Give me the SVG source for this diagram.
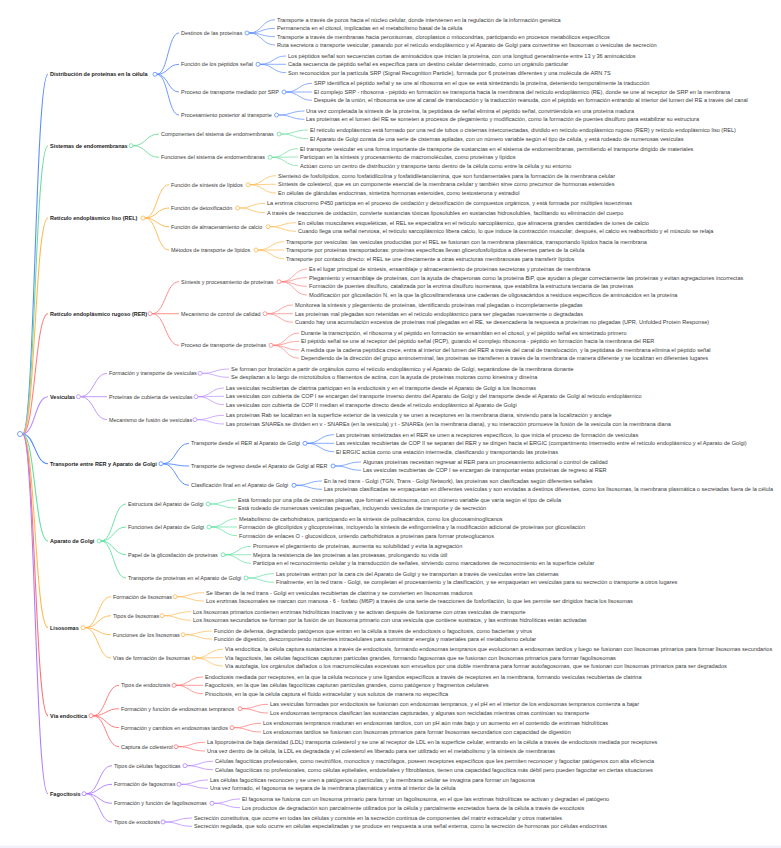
<svg xmlns="http://www.w3.org/2000/svg" width="781" height="848" viewBox="0 0 781 848">
<style>
text{font-family:"Liberation Sans",Arial,sans-serif}
.t1{font-size:5.5px;font-weight:bold;fill:#1a1a1a}
.t2{font-size:5.45px;fill:#3a3a3a}
.t3{font-size:5.6px;fill:#3a3a3a}
.e0 path{stroke-width:1.1}
.e1 path{stroke-width:0.9}
.e2 path{stroke-width:0.7}
circle{fill:#fff;stroke-width:0.8}
.k1{stroke:#5c8dff}.k2{stroke:#6fdc9c}.k3{stroke:#ffb74d}.k4{stroke:#ff8080}.k5{stroke:#b98cff}
.k6{stroke:#4f86ff}.k7{stroke:#5fe0a0}.k8{stroke:#ffb84d}.k9{stroke:#ff7070}.k10{stroke:#b07cff}
</style>
<rect x="0" y="0" width="781" height="848" fill="#fff"/>
<rect x="0" y="845.5" width="781" height="2.5" fill="#f3f1fb"/>
<g id="connectors" fill="none">
<g class="e0">
<path class="k1" d="M22.5 434C35 434 35 74.3 48 74.3"/>
<path class="k2" d="M22.5 434C35 434 35 145.7 48 145.7"/>
<path class="k3" d="M22.5 434C35 434 35 218 48 218"/>
<path class="k4" d="M22.5 434C35 434 35 313.7 48 313.7"/>
<path class="k5" d="M22.5 434C35 434 35 396.7 48 396.7"/>
<path class="k6" d="M22.5 434C35 434 35 463.7 48 463.7"/>
<path class="k7" d="M22.5 434C35 434 35 541 48 541"/>
<path class="k8" d="M22.5 434C35 434 35 627.7 48 627.7"/>
<path class="k9" d="M22.5 434C35 434 35 715.7 48 715.7"/>
<path class="k10" d="M22.5 434C35 434 35 793.7 48 793.7"/>
</g>
<g class="e1">
<path class="k1" d="M157 74.3C168 74.3 168 33 179 33M157 74.3C168 74.3 168 64.3 179 64.3M157 74.3C168 74.3 168 92 179 92M157 74.3C168 74.3 168 115 179 115"/>
<path class="k2" d="M133 145.7C146 145.7 146 134 159 134M133 145.7C146 145.7 146 157.3 159 157.3"/>
<path class="k3" d="M145 218C157 218 157 184.7 169 184.7M145 218C157 218 157 208 169 208M145 218C157 218 157 226.7 169 226.7M145 218C157 218 157 250 169 250"/>
<path class="k4" d="M152 313.7C165.5 313.7 165.5 281.7 179 281.7M152 313.7C165.5 313.7 165.5 313.7 179 313.7M152 313.7C165.5 313.7 165.5 345.3 179 345.3"/>
<path class="k5" d="M80.5 396.7C94 396.7 94 373.3 107 373.3M80.5 396.7C94 396.7 94 396.7 107 396.7M80.5 396.7C94 396.7 94 419.7 107 419.7"/>
<path class="k6" d="M163 463.7C176 463.7 176 443.3 189 443.3M163 463.7C176 463.7 176 466 189 466M163 463.7C176 463.7 176 485.3 189 485.3"/>
<path class="k7" d="M101 541C113.5 541 113.5 504 126 504M101 541C113.5 541 113.5 527 126 527M101 541C113.5 541 113.5 554.7 126 554.7M101 541C113.5 541 113.5 578 126 578"/>
<path class="k8" d="M85 627.7C98 627.7 98 596.7 111 596.7M85 627.7C98 627.7 98 615.7 111 615.7M85 627.7C98 627.7 98 634.7 111 634.7M85 627.7C98 627.7 98 658 111 658"/>
<path class="k9" d="M93 715.7C106 715.7 106 685.3 119 685.3M93 715.7C106 715.7 106 708.7 119 708.7M93 715.7C106 715.7 106 727.7 119 727.7M93 715.7C106 715.7 106 746.7 119 746.7"/>
<path class="k10" d="M86 793.7C99 793.7 99 765.7 112 765.7M86 793.7C99 793.7 99 784.3 112 784.3M86 793.7C99 793.7 99 803.3 112 803.3M86 793.7C99 793.7 99 822 112 822"/>
</g>
<g class="e2">
<path class="k1" d="M249 33C262 33 262 19.7 275 19.7M249 33C262 33 262 28.3 275 28.3M249 33C262 33 262 36.7 275 36.7M249 33C262 33 262 45 275 45"/>
<path class="k1" d="M260 64.3C273 64.3 273 56 286 56M260 64.3C273 64.3 273 64.3 286 64.3M260 64.3C273 64.3 273 72.7 286 72.7"/>
<path class="k1" d="M286 92C299 92 299 83.3 312 83.3M286 92C299 92 299 92 312 92M286 92C299 92 299 100.3 312 100.3"/>
<path class="k1" d="M278.5 115C291.5 115 291.5 111 304.5 111M278.5 115C291.5 115 291.5 119.3 304.5 119.3"/>
<path class="k2" d="M281 134C294.5 134 294.5 130 308 130M281 134C294.5 134 294.5 138.7 308 138.7"/>
<path class="k2" d="M272 157.3C285 157.3 285 148.7 298 148.7M272 157.3C285 157.3 285 157 298 157M272 157.3C285 157.3 285 165.7 298 165.7"/>
<path class="k3" d="M250 184.7C263 184.7 263 175.7 276 175.7M250 184.7C263 184.7 263 184.3 276 184.3M250 184.7C263 184.7 263 193 276 193"/>
<path class="k3" d="M239.5 208C252 208 252 203.3 265 203.3M239.5 208C252 208 252 212.7 265 212.7"/>
<path class="k3" d="M270 226.7C283 226.7 283 222.7 296 222.7M270 226.7C283 226.7 283 231.3 296 231.3"/>
<path class="k3" d="M258 250C271 250 271 241.7 284 241.7M258 250C271 250 271 250 284 250M258 250C271 250 271 258.7 284 258.7"/>
<path class="k4" d="M281 281.7C294 281.7 294 269 307 269M281 281.7C294 281.7 294 277.7 307 277.7M281 281.7C294 281.7 294 286.3 307 286.3M281 281.7C294 281.7 294 295 307 295"/>
<path class="k4" d="M267 313.7C280 313.7 280 305 293 305M267 313.7C280 313.7 280 313.7 293 313.7M267 313.7C280 313.7 280 322.3 293 322.3"/>
<path class="k4" d="M273 345.3C286 345.3 286 333 299 333M273 345.3C286 345.3 286 341.3 299 341.3M273 345.3C286 345.3 286 350 299 350M273 345.3C286 345.3 286 358.3 299 358.3"/>
<path class="k5" d="M202 373.3C215 373.3 215 369 229 369M202 373.3C215 373.3 215 377.3 229 377.3"/>
<path class="k5" d="M198 396.7C211 396.7 211 388 224 388M198 396.7C211 396.7 211 396.3 224 396.3M198 396.7C211 396.7 211 404.7 224 404.7"/>
<path class="k5" d="M197 419.7C210 419.7 210 415.3 224 415.3M197 419.7C210 419.7 210 424 224 424"/>
<path class="k6" d="M307 443.3C320 443.3 320 434.7 334 434.7M307 443.3C320 443.3 320 443.3 334 443.3M307 443.3C320 443.3 320 451.7 334 451.7"/>
<path class="k6" d="M335 466C348 466 348 462 361 462M335 466C348 466 348 470.3 361 470.3"/>
<path class="k6" d="M296 485.3C309 485.3 309 481 322 481M296 485.3C309 485.3 309 489.3 322 489.3"/>
<path class="k7" d="M210 504C223 504 223 499.7 236 499.7M210 504C223 504 223 508 236 508"/>
<path class="k7" d="M211 527C224 527 224 518.7 237 518.7M211 527C224 527 224 527 237 527M211 527C224 527 224 535.7 237 535.7"/>
<path class="k7" d="M225 554.7C238 554.7 238 546.3 251 546.3M225 554.7C238 554.7 238 554.7 251 554.7M225 554.7C238 554.7 238 563.3 251 563.3"/>
<path class="k7" d="M248 578C261 578 261 573.7 274 573.7M248 578C261 578 261 582.3 274 582.3"/>
<path class="k8" d="M177 596.7C190 596.7 190 592.7 204 592.7M177 596.7C190 596.7 190 601 204 601"/>
<path class="k8" d="M164 615.7C177 615.7 177 611.7 191 611.7M164 615.7C177 615.7 177 620.3 191 620.3"/>
<path class="k8" d="M185 634.7C198 634.7 198 631 212 631M185 634.7C198 634.7 198 639 212 639"/>
<path class="k8" d="M196 658C209 658 209 649.3 223 649.3M196 658C209 658 209 657.7 223 657.7M196 658C209 658 209 666 223 666"/>
<path class="k9" d="M176 685.3C189 685.3 189 677 203 677M176 685.3C189 685.3 189 685.3 203 685.3M176 685.3C189 685.3 189 693.7 203 693.7"/>
<path class="k9" d="M242 708.7C255 708.7 255 704.3 268 704.3M242 708.7C255 708.7 255 713 268 713"/>
<path class="k9" d="M234 727.7C247 727.7 247 723.3 261 723.3M234 727.7C247 727.7 247 732 261 732"/>
<path class="k9" d="M178 746.7C191 746.7 191 742.3 205 742.3M178 746.7C191 746.7 191 751 205 751"/>
<path class="k10" d="M187 765.7C200 765.7 200 761.3 213 761.3M187 765.7C200 765.7 200 769.7 213 769.7"/>
<path class="k10" d="M181 784.3C194 784.3 194 780 208 780M181 784.3C194 784.3 194 788.3 208 788.3"/>
<path class="k10" d="M214 803.3C227 803.3 227 799 240 799M214 803.3C227 803.3 227 807.7 240 807.7"/>
<path class="k10" d="M165 822C178 822 178 818 192 818M165 822C178 822 178 826.3 192 826.3"/>
</g>
</g>
<g id="root"><circle class="k1" cx="20" cy="434" r="2.5"/></g>

<g id="n1"><text class="t1" x="50" y="76.3">Distribución de proteínas en la célula</text><circle class="k1" cx="155" cy="74.3" r="2"/>
<g id="n1-1"><text class="t2" x="181" y="35">Destinos de las proteínas</text><circle class="k1" cx="247" cy="33" r="2"/>
<text class="t3" x="277" y="21.7">Transporte a través de poros hacia el núcleo celular, donde intervienen en la regulación de la información genética</text>
<text class="t3" x="277" y="30.3">Permanencia en el citosol, implicadas en el metabolismo basal de la célula</text>
<text class="t3" x="277" y="38.7">Transporte a través de membranas hacia peroxisomas, cloroplastos o mitocondrias, participando en procesos metabólicos específicos</text>
<text class="t3" x="277" y="47">Ruta secretora o transporte vesicular, pasando por el retículo endoplásmico y el Aparato de Golgi para convertirse en lisosomas o vesículas de secreción</text></g>
<g id="n1-2"><text class="t2" x="181" y="66.3">Función de los péptidos señal</text><circle class="k1" cx="258" cy="64.3" r="2"/>
<text class="t3" x="288" y="58">Los péptidos señal son secuencias cortas de aminoácidos que inician la proteína, con una longitud generalmente entre 13 y 36 aminoácidos</text>
<text class="t3" x="288" y="66.3">Cada secuencia de péptido señal es específica para un destino celular determinado, como un orgánulo particular</text>
<text class="t3" x="288" y="74.7">Son reconocidos por la partícula SRP (Signal Recognition Particle), formada por 6 proteínas diferentes y una molécula de ARN 7S</text></g>
<g id="n1-3"><text class="t2" x="181" y="94">Proceso de transporte mediado por SRP</text><circle class="k1" cx="284" cy="92" r="2"/>
<text class="t3" x="314" y="85.3">SRP identifica el péptido señal y se une al ribosoma en el que se está sintetizando la proteína, deteniendo temporalmente la traducción</text>
<text class="t3" x="314" y="94">El complejo SRP - ribosoma - péptido en formación se transporta hacia la membrana del retículo endoplásmico (RE), donde se une al receptor de SRP en la membrana</text>
<text class="t3" x="314" y="102.3">Después de la unión, el ribosoma se une al canal de translocación y la traducción reanuda, con el péptido en formación entrando al interior del lumen del RE a través del canal</text></g>
<g id="n1-4"><text class="t2" x="181" y="117">Procesamiento posterior al transporte</text><circle class="k1" cx="276.5" cy="115" r="2"/>
<text class="t3" x="306" y="113">Una vez completada la síntesis de la proteína, la peptidasa de señal elimina el péptido señal, convirtiéndola en una proteína madura</text>
<text class="t3" x="306" y="121.3">Las proteínas en el lumen del RE se someten a procesos de plegamiento y modificación, como la formación de puentes disulfuro para estabilizar su estructura</text></g>
</g>

<g id="n2"><text class="t1" x="50" y="147.7">Sistemas de endomembranas</text><circle class="k2" cx="131" cy="145.7" r="2"/>
<g id="n2-1"><text class="t2" x="161" y="136">Componentes del sistema de endomembranas</text><circle class="k2" cx="279" cy="134" r="2"/>
<text class="t3" x="310" y="132">El retículo endoplásmico está formado por una red de tubos o cisternas interconectadas, dividido en retículo endoplásmico rugoso (RER) y retículo endoplásmico liso (REL)</text>
<text class="t3" x="310" y="140.7">El Aparato de Golgi consta de una serie de cisternas apiladas, con un número variable según el tipo de célula, y está rodeado de numerosas vesículas</text></g>
<g id="n2-2"><text class="t2" x="161" y="159.3">Funciones del sistema de endomembranas</text><circle class="k2" cx="270" cy="157.3" r="2"/>
<text class="t3" x="300" y="150.7">El transporte vesicular es una forma importante de transporte de sustancias en el sistema de endomembranas, permitiendo el transporte dirigido de materiales</text>
<text class="t3" x="300" y="159">Participan en la síntesis y procesamiento de macromoléculas, como proteínas y lípidos</text>
<text class="t3" x="300" y="167.7">Actúan como un centro de distribución y transporte tanto dentro de la célula como entre la célula y su entorno</text></g>
</g>

<g id="n3"><text class="t1" x="50" y="220">Retículo endoplásmico liso (REL)</text><circle class="k3" cx="143" cy="218" r="2"/>
<g id="n3-1"><text class="t2" x="171" y="186.7">Función de síntesis de lípidos</text><circle class="k3" cx="248" cy="184.7" r="2"/>
<text class="t3" x="278" y="177.7">Sienteisó de fosfolípidos, como fosfatidilcolina y fosfatidiletanolamina, que son fundamentales para la formación de la membrana celular</text>
<text class="t3" x="278" y="186.3">Síntesis de colesterol, que es un componente esencial de la membrana celular y también sirve como precursor de hormonas esteroides</text>
<text class="t3" x="278" y="195">En células de glándulas endocrinas, sintetiza hormonas esteroides, como testosterona y estradiol</text></g>
<g id="n3-2"><text class="t2" x="171" y="210">Función de detoxificación</text><circle class="k3" cx="237.5" cy="208" r="2"/>
<text class="t3" x="267" y="205.3">La enzima citocromo P450 participa en el proceso de oxidación y detoxificación de compuestos orgánicos, y está formada por múltiples isoenzimas</text>
<text class="t3" x="267" y="214.7">A través de reacciones de oxidación, convierte sustancias tóxicas liposolubles en sustancias hidrosolubles, facilitando su eliminación del cuerpo</text></g>
<g id="n3-3"><text class="t2" x="171" y="228.7">Función de almacenamiento de calcio</text><circle class="k3" cx="268" cy="226.7" r="2"/>
<text class="t3" x="298" y="224.7">En células musculares esqueléticas, el REL se especializa en el retículo sarcoplásmico, que almacena grandes cantidades de iones de calcio</text>
<text class="t3" x="298" y="233.3">Cuando llega una señal nerviosa, el retículo sarcoplásmico libera calcio, lo que induce la contracción muscular; después, el calcio es reabsorbido y el músculo se relaja</text></g>
<g id="n3-4"><text class="t2" x="171" y="252">Métodos de transporte de lípidos</text><circle class="k3" cx="256" cy="250" r="2"/>
<text class="t3" x="286" y="243.7">Transporte por vesículas: las vesículas producidas por el REL se fusionan con la membrana plasmática, transportando lípidos hacia la membrana</text>
<text class="t3" x="286" y="252">Transporte por proteínas transportadoras: proteínas específicas llevan glicerofosfolípidos a diferentes partes de la célula</text>
<text class="t3" x="286" y="260.7">Transporte por contacto directo: el REL se une directamente a otras estructuras membranosas para transferir lípidos</text></g>
</g>

<g id="n4"><text class="t1" x="50" y="315.7">Retículo endoplásmico rugoso (RER)</text><circle class="k4" cx="150" cy="313.7" r="2"/>
<g id="n4-1"><text class="t2" x="181" y="283.7">Síntesis y procesamiento de proteínas</text><circle class="k4" cx="279" cy="281.7" r="2"/>
<text class="t3" x="309" y="271">Es el lugar principal de síntesis, ensamblaje y almacenamiento de proteínas secretoras y proteínas de membrana</text>
<text class="t3" x="309" y="279.7">Plegamiento y ensamblaje de proteínas, con la ayuda de chaperonas como la proteína BiP, que ayudan a plegar correctamente las proteínas y evitan agregaciones incorrectas</text>
<text class="t3" x="309" y="288.3">Formación de puentes disulfuro, catalizada por la enzima disulfuro isomerasa, que estabiliza la estructura terciaria de las proteínas</text>
<text class="t3" x="309" y="297">Modificación por glicosilación N, en la que la glicosiltransferasa une cadenas de oligosacáridos a residuos específicos de aminoácidos en la proteína</text></g>
<g id="n4-2"><text class="t2" x="181" y="315.7">Mecanismo de control de calidad</text><circle class="k4" cx="265" cy="313.7" r="2"/>
<text class="t3" x="295" y="307">Monitorea la síntesis y plegamiento de proteínas, identificando proteínas mal plegadas o incompletamente plegadas</text>
<text class="t3" x="295" y="315.7">Las proteínas mal plegadas son retenidas en el retículo endoplásmico para ser plegadas nuevamente o degradadas</text>
<text class="t3" x="295" y="324.3">Cuando hay una acumulación excesiva de proteínas mal plegadas en el RE, se desencadena la respuesta a proteínas no plegadas (UPR, Unfolded Protein Response)</text></g>
<g id="n4-3"><text class="t2" x="181" y="347.3">Proceso de transporte de proteínas</text><circle class="k4" cx="271" cy="345.3" r="2"/>
<text class="t3" x="301" y="335">Durante la transcripción, el ribosoma y el péptido en formación se ensamblan en el citosol, y el péptido señal es sintetizado primero</text>
<text class="t3" x="301" y="343.3">El péptido señal se une al receptor del péptido señal (RCP), guiando el complejo ribosoma - péptido en formación hacia la membrana del RER</text>
<text class="t3" x="301" y="352">A medida que la cadena peptídica crece, entra al interior del lumen del RER a través del canal de translocación, y la peptidasa de membrana elimina el péptido señal</text>
<text class="t3" x="301" y="360.3">Dependiendo de la dirección del grupo aminoterminal, las proteínas se transfieren a través de la membrana de manera diferente y se localizan en diferentes lugares</text></g>
</g>

<g id="n5"><text class="t1" x="50" y="398.7">Vesículas</text><circle class="k5" cx="78.5" cy="396.7" r="2"/>
<g id="n5-1"><text class="t2" x="109" y="375.3">Formación y transporte de vesículas</text><circle class="k5" cx="200" cy="373.3" r="2"/>
<text class="t3" x="231" y="371">Se forman por brotación a partir de orgánulos como el retículo endoplásmico y el Aparato de Golgi, separándose de la membrana donante</text>
<text class="t3" x="231" y="379.3">Se desplazan a lo largo de microtúbulos o filamentos de actina, con la ayuda de proteínas motoras como kinesina y dineína</text></g>
<g id="n5-2"><text class="t2" x="109" y="398.7">Proteínas de cubierta de vesículas</text><circle class="k5" cx="196" cy="396.7" r="2"/>
<text class="t3" x="226" y="390">Las vesículas recubiertas de clatrina participan en la endocitosis y en el transporte desde el Aparato de Golgi a los lisosomas</text>
<text class="t3" x="226" y="398.3">Las vesículas con cubierta de COP I se encargan del transporte inverso dentro del Aparato de Golgi y del transporte desde el Aparato de Golgi al retículo endoplásmico</text>
<text class="t3" x="226" y="406.7">Las vesículas con cubierta de COP II median el transporte directo desde el retículo endoplásmico al Aparato de Golgi</text></g>
<g id="n5-3"><text class="t2" x="109" y="421.7">Mecanismo de fusión de vesículas</text><circle class="k5" cx="195" cy="419.7" r="2"/>
<text class="t3" x="226" y="417.3">Las proteínas Rab se localizan en la superficie exterior de la vesícula y se unen a receptores en la membrana diana, sirviendo para la localización y anclaje</text>
<text class="t3" x="226" y="426">Las proteínas SNAREs se dividen en v - SNAREs (en la vesícula) y t - SNAREs (en la membrana diana), y su interacción promueve la fusión de la vesícula con la membrana diana</text></g>
</g>

<g id="n6"><text class="t1" x="50" y="465.7">Transporte entre RER y Aparato de Golgi</text><circle class="k6" cx="161" cy="463.7" r="2"/>
<g id="n6-1"><text class="t2" x="191" y="445.3">Transporte desde el RER al Aparato de Golgi</text><circle class="k6" cx="305" cy="443.3" r="2"/>
<text class="t3" x="336" y="436.7">Las proteínas sintetizadas en el RER se unen a receptores específicos, lo que inicia el proceso de formación de vesículas</text>
<text class="t3" x="336" y="445.3">Las vesículas recubiertas de COP II se separan del RER y se dirigen hacia el ERGIC (compartimento intermedio entre el retículo endoplásmico y el Aparato de Golgi)</text>
<text class="t3" x="336" y="453.7">El ERGIC actúa como una estación intermedia, clasificando y transportando las proteínas</text></g>
<g id="n6-2"><text class="t2" x="191" y="468">Transporte de regreso desde el Aparato de Golgi al RER</text><circle class="k6" cx="333" cy="466" r="2"/>
<text class="t3" x="363" y="464">Algunas proteínas necesitan regresar al RER para un procesamiento adicional o control de calidad</text>
<text class="t3" x="363" y="472.3">Las vesículas recubiertas de COP I se encargan de transportar estas proteínas de regreso al RER</text></g>
<g id="n6-3"><text class="t2" x="191" y="487.3">Clasificación final en el Aparato de Golgi</text><circle class="k6" cx="294" cy="485.3" r="2"/>
<text class="t3" x="324" y="483">En la red trans - Golgi (TGN, Trans - Golgi Network), las proteínas son clasificadas según diferentes señales</text>
<text class="t3" x="324" y="491.3">Las proteínas clasificadas se empaquetan en diferentes vesículas y son enviadas a destinos diferentes, como los lisosomas, la membrana plasmática o secretadas fuera de la célula</text></g>
</g>

<g id="n7"><text class="t1" x="50" y="543">Aparato de Golgi</text><circle class="k7" cx="99" cy="541" r="2"/>
<g id="n7-1"><text class="t2" x="128" y="506">Estructura del Aparato de Golgi</text><circle class="k7" cx="208" cy="504" r="2"/>
<text class="t3" x="238" y="501.7">Está formado por una pila de cisternas planas, que forman el dictiosoma, con un número variable que varía según el tipo de célula</text>
<text class="t3" x="238" y="510">Está rodeado de numerosas vesículas pequeñas, incluyendo vesículas de transporte y de secreción</text></g>
<g id="n7-2"><text class="t2" x="128" y="529">Funciones del Aparato de Golgi</text><circle class="k7" cx="209" cy="527" r="2"/>
<text class="t3" x="239" y="520.7">Metabolismo de carbohidratos, participando en la síntesis de polisacáridos, como los glucosaminoglicanos</text>
<text class="t3" x="239" y="529">Formación de glicolípidos y glicoproteínas, incluyendo la síntesis de esfingomielina y la modificación adicional de proteínas por glicosilación</text>
<text class="t3" x="239" y="537.7">Formación de enlaces O - glucosídicos, uniendo carbohidratos a proteínas para formar proteoglucanos</text></g>
<g id="n7-3"><text class="t2" x="128" y="556.7">Papel de la glicosilación de proteínas</text><circle class="k7" cx="223" cy="554.7" r="2"/>
<text class="t3" x="253" y="548.3">Promueve el plegamiento de proteínas, aumenta su solubilidad y evita la agregación</text>
<text class="t3" x="253" y="556.7">Mejora la resistencia de las proteínas a las proteasas, prolongando su vida útil</text>
<text class="t3" x="253" y="565.3">Participa en el reconocimiento celular y la transducción de señales, sirviendo como marcadores de reconocimiento en la superficie celular</text></g>
<g id="n7-4"><text class="t2" x="128" y="580">Transporte de proteínas en el Aparato de Golgi</text><circle class="k7" cx="246" cy="578" r="2"/>
<text class="t3" x="276" y="575.7">Las proteínas entran por la cara cis del Aparato de Golgi y se transportan a través de vesículas entre las cisternas</text>
<text class="t3" x="276" y="584.3">Finalmente, en la red trans - Golgi, se completan el procesamiento y la clasificación, y se empaquetan en vesículas para su secreción o transporte a otros lugares</text></g>
</g>

<g id="n8"><text class="t1" x="50" y="629.7">Lisosomas</text><circle class="k8" cx="83" cy="627.7" r="2"/>
<g id="n8-1"><text class="t2" x="113" y="598.7">Formación de lisosomas</text><circle class="k8" cx="175" cy="596.7" r="2"/>
<text class="t3" x="206" y="594.7">Se liberan de la red trans - Golgi en vesículas recubiertas de clatrina y se convierten en lisosomas maduros</text>
<text class="t3" x="206" y="603">Los enzimas lisosomales se marcan con manosa - 6 - fosfato (M6P) a través de una serie de reacciones de fosforilación, lo que les permite ser dirigidos hacia los lisosomas</text></g>
<g id="n8-2"><text class="t2" x="113" y="617.7">Tipos de lisosomas</text><circle class="k8" cx="162" cy="615.7" r="2"/>
<text class="t3" x="193" y="613.7">Los lisosomas primarios contienen enzimas hidrolíticas inactivas y se activan después de fusionarse con otras vesículas de transporte</text>
<text class="t3" x="193" y="622.3">Los lisosomas secundarios se forman por la fusión de un lisosoma primario con una vesícula que contiene sustratos, y las enzimas hidrolíticas están activadas</text></g>
<g id="n8-3"><text class="t2" x="113" y="636.7">Funciones de los lisosomas</text><circle class="k8" cx="183" cy="634.7" r="2"/>
<text class="t3" x="214" y="633">Función de defensa, degradando patógenos que entran en la célula a través de endocitosis o fagocitosis, como bacterias y virus</text>
<text class="t3" x="214" y="641">Función de digestión, descomponiendo nutrientes intracelulares para suministrar energía y materiales para el metabolismo celular</text></g>
<g id="n8-4"><text class="t2" x="113" y="660">Vías de formación de lisosomas</text><circle class="k8" cx="194" cy="658" r="2"/>
<text class="t3" x="225" y="651.3">Vía endocítica, la célula captura sustancias a través de endocitosis, formando endosomas tempranos que evolucionan a endosomas tardíos y luego se fusionan con lisosomas primarios para formar lisosomas secundarios</text>
<text class="t3" x="225" y="659.7">Vía fagocitosis, las células fagocíticas capturan partículas grandes, formando fagosomas que se fusionan con lisosomas primarios para formar fagolisosomas</text>
<text class="t3" x="225" y="668">Vía autofagia, los orgánulos dañados o los macromoléculas excesivas son envueltos por una doble membrana para formar autofagosomas, que se fusionan con lisosomas primarios para ser degradados</text></g>
</g>

<g id="n9"><text class="t1" x="50" y="717.7">Vía endocítica</text><circle class="k9" cx="91" cy="715.7" r="2"/>
<g id="n9-1"><text class="t2" x="121" y="687.3">Tipos de endocitosis</text><circle class="k9" cx="174" cy="685.3" r="2"/>
<text class="t3" x="205" y="679">Endocitosis mediada por receptores, en la que la célula reconoce y une ligandos específicos a través de receptores en la membrana, formando vesículas recubiertas de clatrina</text>
<text class="t3" x="205" y="687.3">Fagocitosis, en la que las células fagocíticas capturan partículas grandes, como patógenos y fragmentos celulares</text>
<text class="t3" x="205" y="695.7">Pinocitosis, en la que la célula captura el fluido extracelular y sus solutos de manera no específica</text></g>
<g id="n9-2"><text class="t2" x="121" y="710.7">Formación y función de endosomas tempranos</text><circle class="k9" cx="240" cy="708.7" r="2"/>
<text class="t3" x="270" y="706.3">Las vesículas formadas por endocitosis se fusionan con endosomas tempranos, y el pH en el interior de los endosomas tempranos comienza a bajar</text>
<text class="t3" x="270" y="715">Los endosomas tempranos clasifican las sustancias capturadas, y algunas son recicladas mientras otras continúan su transporte</text></g>
<g id="n9-3"><text class="t2" x="121" y="729.7">Formación y cambios en endosomas tardíos</text><circle class="k9" cx="232" cy="727.7" r="2"/>
<text class="t3" x="263" y="725.3">Los endosomas tempranos maduran en endosomas tardíos, con un pH aún más bajo y un aumento en el contenido de enzimas hidrolíticas</text>
<text class="t3" x="263" y="734">Los endosomas tardíos se fusionan con lisosomas primarios para formar lisosomas secundarios con capacidad de digestión</text></g>
<g id="n9-4"><text class="t2" x="121" y="748.7">Captura de colesterol</text><circle class="k9" cx="176" cy="746.7" r="2"/>
<text class="t3" x="207" y="744.3">La lipoproteína de baja densidad (LDL) transporta colesterol y se une al receptor de LDL en la superficie celular, entrando en la célula a través de endocitosis mediada por receptores</text>
<text class="t3" x="207" y="753">Una vez dentro de la célula, la LDL es degradada y el colesterol es liberado para ser utilizado en el metabolismo y la síntesis de membranas</text></g>
</g>

<g id="n10"><text class="t1" x="50" y="795.7">Fagocitosis</text><circle class="k10" cx="84" cy="793.7" r="2"/>
<g id="n10-1"><text class="t2" x="114" y="767.7">Tipos de células fagocíticas</text><circle class="k10" cx="185" cy="765.7" r="2"/>
<text class="t3" x="215" y="763.3">Células fagocíticas profesionales, como neutrófilos, monocitos y macrófagos, poseen receptores específicos que les permiten reconocer y fagocitar patógenos con alta eficiencia</text>
<text class="t3" x="215" y="771.7">Células fagocíticas no profesionales, como células epiteliales, endoteliales y fibroblastos, tienen una capacidad fagocítica más débil pero pueden fagocitar en ciertas situaciones</text></g>
<g id="n10-2"><text class="t2" x="114" y="786.3">Formación de fagosomas</text><circle class="k10" cx="179" cy="784.3" r="2"/>
<text class="t3" x="210" y="782">Las células fagocíticas reconocen y se unen a patógenos o partículas, y la membrana celular se invagina para formar un fagosoma</text>
<text class="t3" x="210" y="790.3">Una vez formado, el fagosoma se separa de la membrana plasmática y entra al interior de la célula</text></g>
<g id="n10-3"><text class="t2" x="114" y="805.3">Formación y función de fagolisosomas</text><circle class="k10" cx="212" cy="803.3" r="2"/>
<text class="t3" x="242" y="801">El fagosoma se fusiona con un lisosoma primario para formar un fagolisosoma, en el que las enzimas hidrolíticas se activan y degradan el patógeno</text>
<text class="t3" x="242" y="809.7">Los productos de degradación son parcialmente utilizados por la célula y parcialmente excretados fuera de la célula a través de exocitosis</text></g>
<g id="n10-4"><text class="t2" x="114" y="824">Tipos de exocitosis</text><circle class="k10" cx="163" cy="822" r="2"/>
<text class="t3" x="194" y="820">Secreción constitutiva, que ocurre en todas las células y consiste en la secreción continua de componentes del matriz extracelular y otros materiales</text>
<text class="t3" x="194" y="828.3">Secreción regulada, que solo ocurre en células especializadas y se produce en respuesta a una señal externa, como la secreción de hormonas por células endocrinas</text></g>
</g>
</svg>
